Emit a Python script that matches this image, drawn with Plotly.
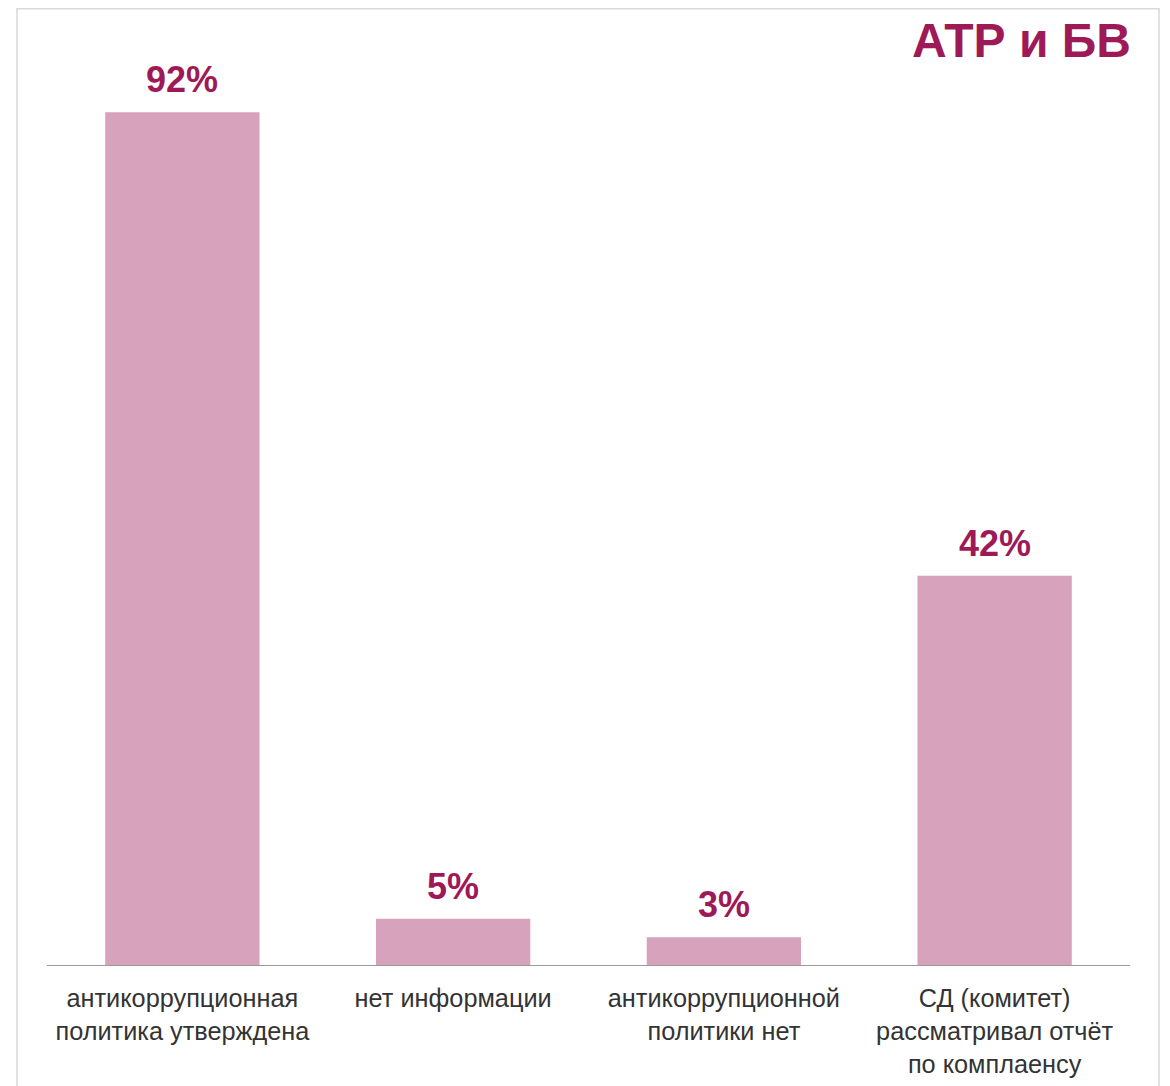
import plotly.graph_objects as go

categories = [
    "антикоррупционная<br>политика утверждена",
    "нет информации",
    "антикоррупционной<br>политики нет",
    "СД (комитет)<br>рассматривал отчёт<br>по комплаенсу",
]
values = [92, 5, 3, 42]
labels = ["92%", "5%", "3%", "42%"]
title_text = "АТР и БВ"

BAR = "#D6A2BC"
ACCENT = "#9E1A57"
FONT = "Liberation Sans, Arial, sans-serif"

OFF = 8  # page body margin
W, H = 1170, 1086
L = 47 - OFF
T = 38 - OFF
plot_right = 1130 - OFF
plot_bottom = 965 - OFF
R = W - plot_right
B = H - plot_bottom
pw = W - L - R
ph = H - T - B

fig = go.Figure(go.Bar(
    x=categories, y=values,
    marker=dict(color=BAR, line=dict(width=0)),
    cliponaxis=False,
))

def px_x(x):
    return (x - OFF - L) / pw

def px_y(y):
    return (plot_bottom - (y - OFF)) / ph

annotations = [
    dict(x=c, y=v, xref="x", yref="y", text=t, showarrow=False,
         xanchor="center", yanchor="bottom", yshift=10,
         font=dict(family=FONT, size=36, color=ACCENT, weight="bold"))
    for c, v, t in zip(categories, values, labels)
]
annotations.append(dict(
    text=title_text, xref="paper", yref="paper",
    x=px_x(1133), y=px_y(41), xanchor="right", yanchor="middle",
    showarrow=False, font=dict(family=FONT, size=48, color=ACCENT, weight="bold"),
))

fig.update_layout(
    width=W, height=H,
    margin=dict(l=L, r=R, t=T, b=B),
    paper_bgcolor="white", plot_bgcolor="white",
    bargap=0.43,
    showlegend=False,
    font=dict(family=FONT),
    xaxis=dict(
        showline=True, linecolor="#9a9a9a", linewidth=1,
        ticks="", showgrid=False, zeroline=False,
        ticklabelstandoff=11,
        tickfont=dict(family=FONT, size=25.3, color="#333333"),
    ),
    yaxis=dict(range=[0, 100], visible=False, showgrid=False, zeroline=False),
    shapes=[dict(
        type="rect", xref="paper", yref="paper",
        x0=px_x(17), x1=px_x(1159), y0=px_y(1110), y1=(plot_bottom - 0.75) / ph,
        line=dict(color="#d9d9d9", width=1.5), fillcolor="rgba(0,0,0,0)",
        layer="below",
    )],
    annotations=annotations,
)

fig.write_html("out.html")
